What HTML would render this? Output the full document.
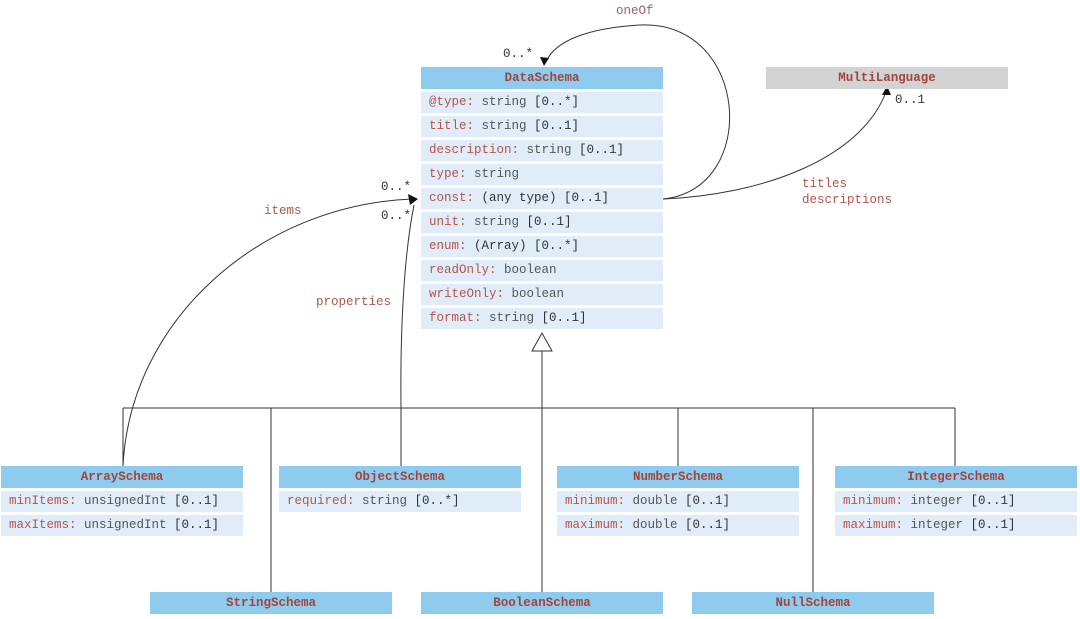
<!DOCTYPE html>
<html><head><style>
body{margin:0;width:1080px;height:619px;background:#fff;position:relative;overflow:hidden;font-family:"Liberation Mono",monospace;font-size:12.5px}
.b{position:absolute;width:242px}
.h{height:22px;background:#8ecbef;color:#a3443a;font-weight:bold;text-align:center;line-height:22px}
.g{background:#d3d3d3}
.r{height:21px;margin-top:3px;background:#e0edf9;line-height:21px;padding-left:8px;color:#555;white-space:nowrap}
.r i{font-style:normal;color:#b5544c}
.r s{text-decoration:none;color:#333}
.l{position:absolute;color:#333;font-size:12.5px}
.lr{position:absolute;color:#b5544c;font-size:12.5px}
</style></head><body>
<svg width="1080" height="619" style="position:absolute;left:0;top:0">
<g stroke="#333" fill="none" stroke-width="1">
<line x1="542" y1="351" x2="542" y2="408"/>
<line x1="123" y1="408" x2="955" y2="408"/>
<line x1="123" y1="408" x2="123" y2="466"/>
<line x1="271" y1="408" x2="271" y2="592"/>
<line x1="401" y1="408" x2="401" y2="466"/>
<line x1="542" y1="408" x2="542" y2="592"/>
<line x1="678" y1="408" x2="678" y2="466"/>
<line x1="813" y1="408" x2="813" y2="592"/>
<line x1="955" y1="408" x2="955" y2="466"/>
<path d="M123,466 C130,320 260,205 412,199"/>
<path d="M401,408 C400,320 405,250 414,205"/>
<path d="M663,199 C760,190 750,20 640,25 C590,28 555,40 546,62"/>
<path d="M663,199 C760,195 860,160 886,92"/>
</g>
<polygon points="542,333 532,351 552,351" fill="#fff" stroke="#333"/>
<polygon points="418,199 408,194 410,205" fill="#111"/>
<polygon points="544,66 540,57 549,58" fill="#111"/>
<polygon points="887,86 882,95 891,95" fill="#111"/>
</svg>
<div class="l" style="left:503px;top:47px">0..*</div>
<div class="lr" style="left:616px;top:4px;color:#a0605a">oneOf</div>
<div class="l" style="left:381px;top:180px">0..*</div>
<div class="l" style="left:381px;top:209px">0..*</div>
<div class="lr" style="left:264px;top:204px">items</div>
<div class="lr" style="left:316px;top:295px">properties</div>
<div class="l" style="left:895px;top:93px">0..1</div>
<div class="lr" style="left:802px;top:177px">titles</div>
<div class="lr" style="left:802px;top:193px">descriptions</div>

<div class="b" style="left:421px;top:67px"><div class="h">DataSchema</div>
<div class="r"><i>@type:</i> string <s>[0..*]</s></div>
<div class="r"><i>title:</i> string <s>[0..1]</s></div>
<div class="r"><i>description:</i> string <s>[0..1]</s></div>
<div class="r"><i>type:</i> string</div>
<div class="r"><i>const:</i> <s>(any type) [0..1]</s></div>
<div class="r"><i>unit:</i> string <s>[0..1]</s></div>
<div class="r"><i>enum:</i> <s>(Array) [0..*]</s></div>
<div class="r"><i>readOnly:</i> boolean</div>
<div class="r"><i>writeOnly:</i> boolean</div>
<div class="r"><i>format:</i> string <s>[0..1]</s></div>
</div>
<div class="b" style="left:766px;top:67px"><div class="h g">MultiLanguage</div></div>
<div class="b" style="left:1px;top:466px"><div class="h">ArraySchema</div>
<div class="r"><i>minItems:</i> unsignedInt <s>[0..1]</s></div>
<div class="r"><i>maxItems:</i> unsignedInt <s>[0..1]</s></div></div>
<div class="b" style="left:279px;top:466px"><div class="h">ObjectSchema</div>
<div class="r"><i>required:</i> string <s>[0..*]</s></div></div>
<div class="b" style="left:557px;top:466px"><div class="h">NumberSchema</div>
<div class="r"><i>minimum:</i> double <s>[0..1]</s></div>
<div class="r"><i>maximum:</i> double <s>[0..1]</s></div></div>
<div class="b" style="left:835px;top:466px"><div class="h">IntegerSchema</div>
<div class="r"><i>minimum:</i> integer <s>[0..1]</s></div>
<div class="r"><i>maximum:</i> integer <s>[0..1]</s></div></div>
<div class="b" style="left:150px;top:592px"><div class="h">StringSchema</div></div>
<div class="b" style="left:421px;top:592px"><div class="h">BooleanSchema</div></div>
<div class="b" style="left:692px;top:592px"><div class="h">NullSchema</div></div>
</body></html>
